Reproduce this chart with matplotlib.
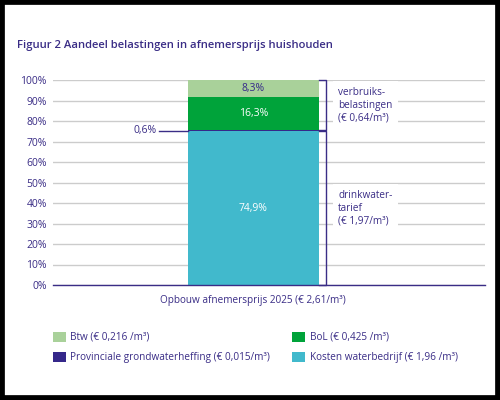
import matplotlib.pyplot as plt
from matplotlib.patches import Patch, Rectangle

plt.rcParams['font.family'] = ['Open Sans', 'DejaVu Sans']

# --- data ---
segments = ["Kosten waterbedrijf", "Provinciale grondwaterheffing", "BoL", "Btw"]
shares = [74.9, 0.6, 16.3, 8.3]
seg_labels = ["74,9%", "0,6%", "16,3%", "8,3%"]
colors = ["#41b9cc", "#35288a", "#00a33a", "#a9d19a"]
label_colors = ["white", "#35288a", "white", "#35288a"]
legend_names = ["Btw (€ 0,216 /m³)", "Provinciale grondwaterheffing (€ 0,015/m³)",
                "BoL (€ 0,425 /m³)", "Kosten waterbedrijf (€ 1,96 /m³)"]
legend_colors = ["#a9d19a", "#35288a", "#00a33a", "#41b9cc"]
yticks = list(range(0, 101, 10))
bar_name = "Opbouw afnemersprijs 2025 (€ 2,61/m³)"
brackets = [("verbruiks-\nbelastingen\n(€ 0,64/m³)", 75.5, 100.0),
            ("drinkwater-\ntarief\n(€ 1,97/m³)", 0.0, 75.0)]

ink = "#3a2d86"
fs = 7.2

fig = plt.figure(figsize=(5, 4), dpi=100)
ax = fig.add_axes([0.106, 0.2875, 0.864, 0.5125])

bottom = 0
for val, col, lab, lc in zip(shares, colors, seg_labels, label_colors):
    ax.bar(0, val, bottom=bottom, width=1, color=col, zorder=2)
    if val > 2:
        ax.text(0, bottom + val / 2, lab, ha='center', va='center',
                color=lc, fontsize=7.5, zorder=3)
    else:
        mid = bottom + val / 2
        ax.plot([-0.72, -0.5], [mid, mid], color=ink, lw=1, zorder=3, clip_on=False)
        ax.text(-0.74, mid, lab, ha='right', va='center', color=ink, fontsize=7.5)
    bottom += val

# brackets
bx = 0.555
for text, lo, hi in brackets:
    ax.plot([0.5, bx, bx, 0.5], [hi, hi, lo, lo], color=ink, lw=1, zorder=3,
            clip_on=False)
    ax.text(0.65, (lo + hi) / 2, text, ha='left', va='center', color=ink,
            fontsize=fs, linespacing=1.25, zorder=4,
            bbox=dict(facecolor='white', edgecolor='none', pad=4))

ax.set_xlim(-1.53, 1.77)
ax.set_ylim(0, 100)
ax.set_yticks(yticks)
ax.set_yticklabels([f"{t}%" for t in yticks], color=ink, fontsize=7.5)
ax.yaxis.grid(True, color="#cccccc", lw=1, zorder=0)
ax.set_axisbelow(True)
ax.tick_params(axis='y', length=0, pad=4.5)
ax.set_xticks([0])
ax.set_xticklabels([bar_name], color=ink, fontsize=fs)
ax.tick_params(axis='x', length=0, pad=7)
for s in ['top', 'right', 'left']:
    ax.spines[s].set_visible(False)
ax.spines['bottom'].set_color(ink)
ax.spines['bottom'].set_linewidth(1)
ax.spines['bottom'].set_zorder(5)

fig.text(0.034, 0.886, "Figuur 2 Aandeel belastingen in afnemersprijs huishouden",
         color=ink, fontsize=8.1, fontweight='semibold', ha='left', va='center')

handles = [Patch(facecolor=c, edgecolor='none') for c in legend_colors]
fig.legend(handles, legend_names, ncol=2, loc='upper left',
           bbox_to_anchor=(0.106, 0.171), frameon=False, fontsize=fs,
           labelcolor=ink, handlelength=1.25, handleheight=1.15,
           handletextpad=0.5, columnspacing=2.2, labelspacing=0.9,
           borderpad=0, borderaxespad=0)

fig.patches.append(Rectangle((0, 0), 1, 1, transform=fig.transFigure,
                             fill=False, edgecolor='black', lw=7))

fig.savefig("out.png", dpi=100, facecolor='white')
